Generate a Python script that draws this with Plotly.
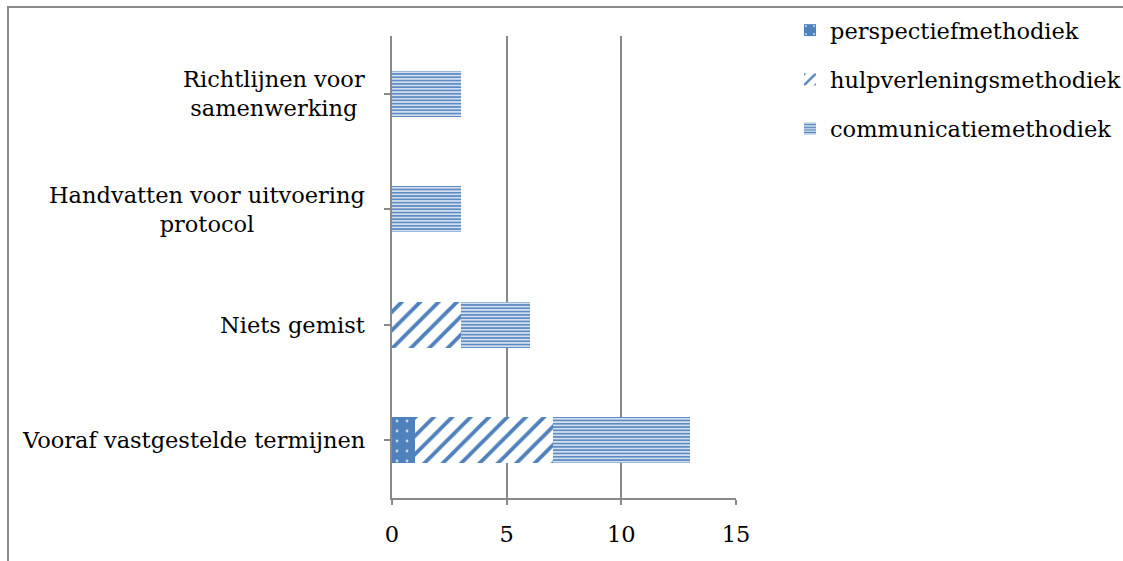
import plotly.graph_objects as go

# Categories (bottom to top) and counts per method
categories = [
    "Vooraf vastgestelde termijnen",
    "Niets gemist",
    "Handvatten voor uitvoering<br>protocol",
    "Richtlijnen voor<br>samenwerking",
]
perspectief = [1, 0, 0, 0]
hulpverlening = [6, 3, 0, 0]
communicatie = [6, 3, 3, 3]
series_names = ["perspectiefmethodiek", "hulpverleningsmethodiek", "communicatiemethodiek"]
x_ticks = [0, 5, 10, 15]

BLUE = "#4F81BD"
GRID = "#898989"
FONT = "DejaVu Serif"
FS = 22.5

W, H = 1123, 561
L, R, T, B = 392, 736, 36, 498  # plot area in pixels

pos = list(range(len(categories)))

fig = go.Figure()
fig.add_trace(go.Bar(
    y=pos, x=perspectief, orientation="h", name=series_names[0], legendgroup="a",
    marker=dict(color=BLUE, line=dict(width=0),
                pattern=dict(shape=".", fgcolor="#c9d7ea", bgcolor=BLUE, size=10, solidity=0.06, fillmode="replace")),
))
fig.add_trace(go.Bar(
    y=pos, x=hulpverlening, orientation="h", name=series_names[1], legendgroup="b",
    marker=dict(color="white", line=dict(width=0),
                pattern=dict(shape="/", fgcolor=BLUE, bgcolor="white", size=13, solidity=0.3, fillmode="replace")),
))
fig.add_trace(go.Bar(
    y=pos, x=communicatie, orientation="h", name=series_names[2], legendgroup="c",
    marker=dict(color="#dbe5f1", line=dict(width=0),
                pattern=dict(shape="-", fgcolor=BLUE, bgcolor="#d3dfee", size=3.3, solidity=0.45, fillmode="replace")),
))

# Category labels, centred per line, right edge just left of the axis
for i, c in enumerate(categories):
    fig.add_annotation(
        x=-25 / (R - L), xref="paper", y=i, yref="y",
        text=c, showarrow=False, xanchor="right", yanchor="middle", align="center",
        font=dict(family=FONT, size=FS, color="black"),
    )

# Outer chart frame
fig.add_shape(
    type="rect", xref="paper", yref="paper",
    x0=(8 - L) / (R - L), x1=(1140 - L) / (R - L),
    y0=(B - 580) / (B - T), y1=(B - 7) / (B - T),
    line=dict(color=GRID, width=2), fillcolor="rgba(0,0,0,0)", layer="below",
)

fig.update_layout(
    width=W, height=H,
    margin=dict(l=L, r=W - R, t=T, b=H - B, pad=0, autoexpand=False),
    paper_bgcolor="white", plot_bgcolor="white",
    barmode="stack", bargap=0.6,
    font=dict(family=FONT, size=FS, color="black"),
    showlegend=True,
    legend=dict(
        x=(790 - L) / (R - L), xanchor="left",
        y=(B - 9) / (B - T), yanchor="top",
        traceorder="grouped", tracegroupgap=17,
        itemwidth=30, font=dict(family=FONT, size=FS),
        bgcolor="rgba(0,0,0,0)",
    ),
    xaxis=dict(
        range=[0, 15], tickvals=x_ticks, ticktext=[str(v) for v in x_ticks],
        showgrid=True, gridcolor=GRID, gridwidth=1.5,
        showline=True, linecolor=GRID, linewidth=1.5,
        ticks="outside", ticklen=5, tickcolor=GRID, tickwidth=1.5,
        ticklabelstandoff=10,
        zeroline=False, fixedrange=True,
        tickfont=dict(family=FONT, size=FS),
    ),
    yaxis=dict(
        range=[-0.5, len(categories) - 0.5], tickmode="array", tickvals=pos,
        ticktext=["" for _ in pos], tickson="boundaries",
        showgrid=False, showline=True, linecolor=GRID, linewidth=1.5,
        ticks="outside", ticklen=6, tickcolor=GRID, tickwidth=1.5,
        zeroline=False, fixedrange=True,
    ),
)

fig.write_html("out.html")
